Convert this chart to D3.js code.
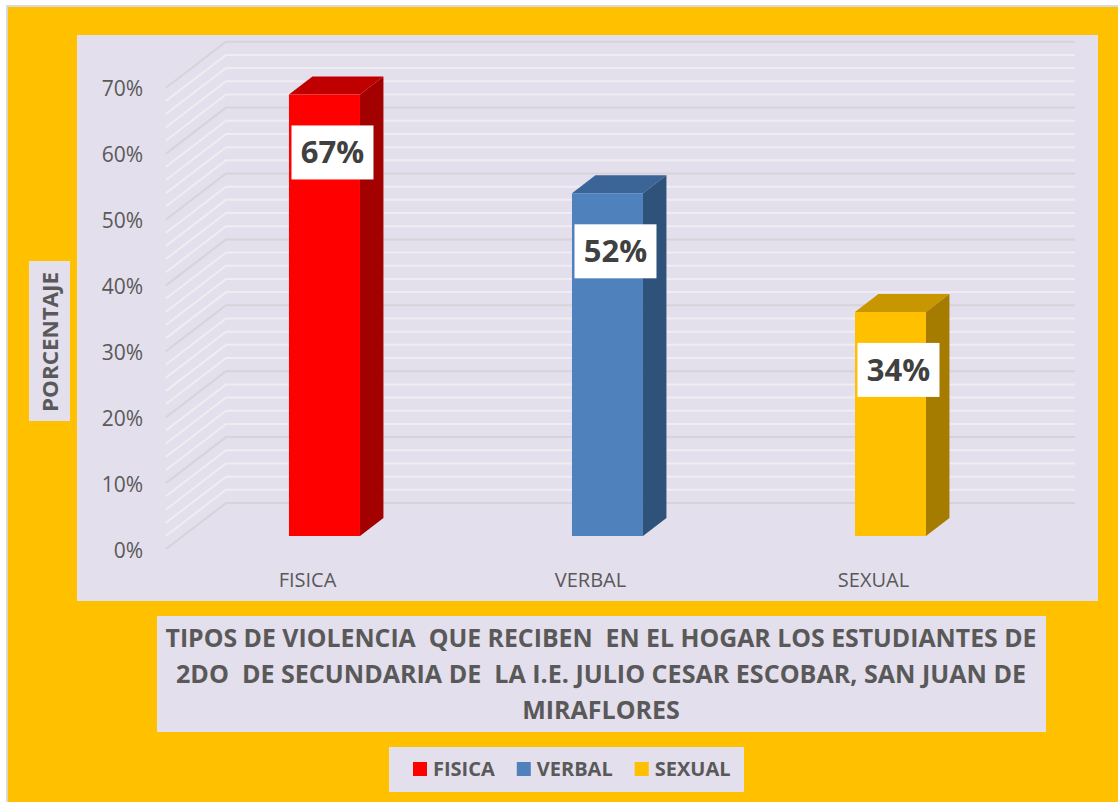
<!DOCTYPE html>
<html>
<head>
<meta charset="utf-8">
<script src="https://cdn.jsdelivr.net/npm/d3@7"></script>
<style>
    body { margin: 0; background: #ffffff; }
    svg { display: block; font-family: 'Open Sans', 'Noto Sans', sans-serif; }
    text { white-space: pre; }
</style>
</head>
<body>
<svg id="chart" width="1118" height="802"></svg>
<script>
// chart values
var categories = ['FISICA', 'VERBAL', 'SEXUAL'];
var values = [67, 52, 34];
var frontColors = ['#FF0000', '#4F81BD', '#FFC000'];
var topColors = ['#C00000', '#3B6597', '#C89600'];
var sideColors = ['#A30000', '#2E5279', '#A57B00'];
var tickValues = [0, 10, 20, 30, 40, 50, 60, 70];
var tickLabels = ['0%', '10%', '20%', '30%', '40%', '50%', '60%', '70%'];
var gridValues = d3.range(0, 71, 2);
var titleLines = [
    'TIPOS DE VIOLENCIA  QUE RECIBEN  EN EL HOGAR LOS ESTUDIANTES DE',
    '2DO  DE SECUNDARIA DE  LA I.E. JULIO CESAR ESCOBAR, SAN JUAN DE',
    'MIRAFLORES'
];
var axisTitle = 'PORCENTAJE';

var svg = d3.select('#chart'),
    textColor = '#595959',
    floorY = 549,        // y of value 0 on the front edge
    depthX = 60,         // shift of the full depth, x
    depthY = -46,        // shift of the full depth, y
    barFront = 0.283,    // depth of bar front face (0..1)
    barBack = 0.674,     // depth of bar back face
    barWidth = 71;

var x = d3.scaleBand()
    .domain(categories)
    .range([166, 1015]);

var h = d3.scaleLinear()
    .domain([0, 70])
    .range([0, 461.3]);

// simple oblique projection: front x, value, depth
function proj(px, v, z) {
    return [px + depthX * z, floorY + depthY * z - h(v)];
}

function poly(points) {
    return 'M' + points.map(function(p) { return p[0] + ',' + p[1]; }).join('L') + 'Z';
}

// outer frame
svg.append('rect')
    .attr('x', 6).attr('y', 5)
    .attr('width', 1200).attr('height', 1200)
    .attr('fill', '#D9D9D9');

svg.append('rect')
    .attr('x', 8).attr('y', 7)
    .attr('width', 1200).attr('height', 1200)
    .attr('fill', '#FFC000');

// plot area
svg.append('rect')
    .attr('x', 77).attr('y', 35)
    .attr('width', 1021).attr('height', 566)
    .attr('fill', '#E4DFEC');

// gridlines on side wall and back wall
var x0 = x.range()[0],
    x1 = x.range()[1];

svg.append('g')
    .selectAll('path')
    .data(gridValues)
    .join('path')
    .attr('d', function(v) {
        var a = proj(x0, v, 0), b = proj(x0, v, 1), c = proj(x1, v, 1);
        return 'M' + a + 'L' + b + 'L' + c;
    })
    .attr('fill', 'none')
    .attr('stroke', function(v) { return v % 10 === 0 ? '#D6D3D9' : '#EFEDF1'; })
    .attr('stroke-width', 2);

// y tick labels
svg.append('g')
    .selectAll('text')
    .data(tickValues)
    .join('text')
    .attr('x', 143)
    .attr('y', function(v) { return proj(x0, v, 0)[1] + 1; })
    .attr('dy', '0.36em')
    .attr('text-anchor', 'end')
    .attr('font-size', 21)
    .attr('fill', textColor)
    .text(function(v, i) { return tickLabels[i]; });

// category labels
svg.append('g')
    .selectAll('text')
    .data(categories)
    .join('text')
    .attr('x', function(c) { return x(c) + x.bandwidth() / 2; })
    .attr('y', 587)
    .attr('text-anchor', 'middle')
    .attr('font-size', 20)
    .attr('fill', textColor)
    .text(function(c) { return c; });

// 3d bars
var bars = svg.append('g')
    .selectAll('g')
    .data(categories)
    .join('g');

function edges(c) {
    var mid = x(c) + x.bandwidth() / 2;
    return [mid - barWidth / 2, mid + barWidth / 2];
}

bars.append('path')
    .attr('d', function(c, i) {
        var e = edges(c), v = values[i];
        return poly([proj(e[0], v, barFront), proj(e[1], v, barFront),
            proj(e[1], v, barBack), proj(e[0], v, barBack)]);
    })
    .attr('fill', function(c, i) { return topColors[i]; });

bars.append('path')
    .attr('d', function(c, i) {
        var e = edges(c), v = values[i];
        return poly([proj(e[1], v, barFront), proj(e[1], v, barBack),
            proj(e[1], 0, barBack), proj(e[1], 0, barFront)]);
    })
    .attr('fill', function(c, i) { return sideColors[i]; });

bars.append('path')
    .attr('d', function(c, i) {
        var e = edges(c), v = values[i];
        return poly([proj(e[0], v, barFront), proj(e[1], v, barFront),
            proj(e[1], 0, barFront), proj(e[0], 0, barFront)]);
    })
    .attr('fill', function(c, i) { return frontColors[i]; });

// data labels
var labels = bars.append('g')
    .attr('transform', function(c, i) {
        var e = edges(c),
            p = proj((e[0] + e[1]) / 2, values[i], barFront);
        return 'translate(' + (p[0] + 8) + ',' + (p[1] + 58) + ')';
    });

labels.append('rect')
    .attr('x', -41).attr('y', -27)
    .attr('width', 82).attr('height', 54)
    .attr('fill', '#ffffff');

labels.append('text')
    .attr('y', 11)
    .attr('text-anchor', 'middle')
    .attr('font-size', 31)
    .attr('font-weight', 'bold')
    .attr('fill', '#404040')
    .text(function(c, i) { return values[i] + '%'; });

// axis title
svg.append('rect')
    .attr('x', 29).attr('y', 261)
    .attr('width', 41).attr('height', 160)
    .attr('fill', '#E4DFEC');

svg.append('text')
    .attr('transform', 'translate(58,342) rotate(-90)')
    .attr('text-anchor', 'middle')
    .attr('font-size', 22)
    .attr('font-weight', 'bold')
    .attr('fill', textColor)
    .attr('textLength', 140)
    .attr('lengthAdjust', 'spacingAndGlyphs')
    .text(axisTitle);

// chart title
svg.append('rect')
    .attr('x', 157).attr('y', 616)
    .attr('width', 889).attr('height', 116)
    .attr('fill', '#E4DFEC');

var titleWidths = [871, 850, null];

svg.append('g')
    .selectAll('text')
    .data(titleLines)
    .join('text')
    .attr('x', 601)
    .attr('y', function(d, i) { return 647 + i * 36; })
    .attr('text-anchor', 'middle')
    .attr('font-size', 25)
    .attr('font-weight', 'bold')
    .attr('fill', textColor)
    .each(function(d, i) {
        if (titleWidths[i]) {
            d3.select(this)
                .attr('textLength', titleWidths[i])
                .attr('lengthAdjust', 'spacingAndGlyphs');
        }
    })
    .text(function(d) { return d; });

// legend
svg.append('rect')
    .attr('x', 389).attr('y', 747)
    .attr('width', 355).attr('height', 45)
    .attr('fill', '#E4DFEC');

var legendX = 413;
categories.forEach(function(c, i) {
    svg.append('rect')
        .attr('x', legendX).attr('y', 762)
        .attr('width', 14).attr('height', 14)
        .attr('fill', frontColors[i]);
    var t = svg.append('text')
        .attr('x', legendX + 20)
        .attr('y', 776)
        .attr('font-size', 20)
        .attr('font-weight', 'bold')
        .attr('fill', textColor)
        .text(c);
    legendX += 20 + t.node().getComputedTextLength() + 22;
});
</script>
</body>
</html>
